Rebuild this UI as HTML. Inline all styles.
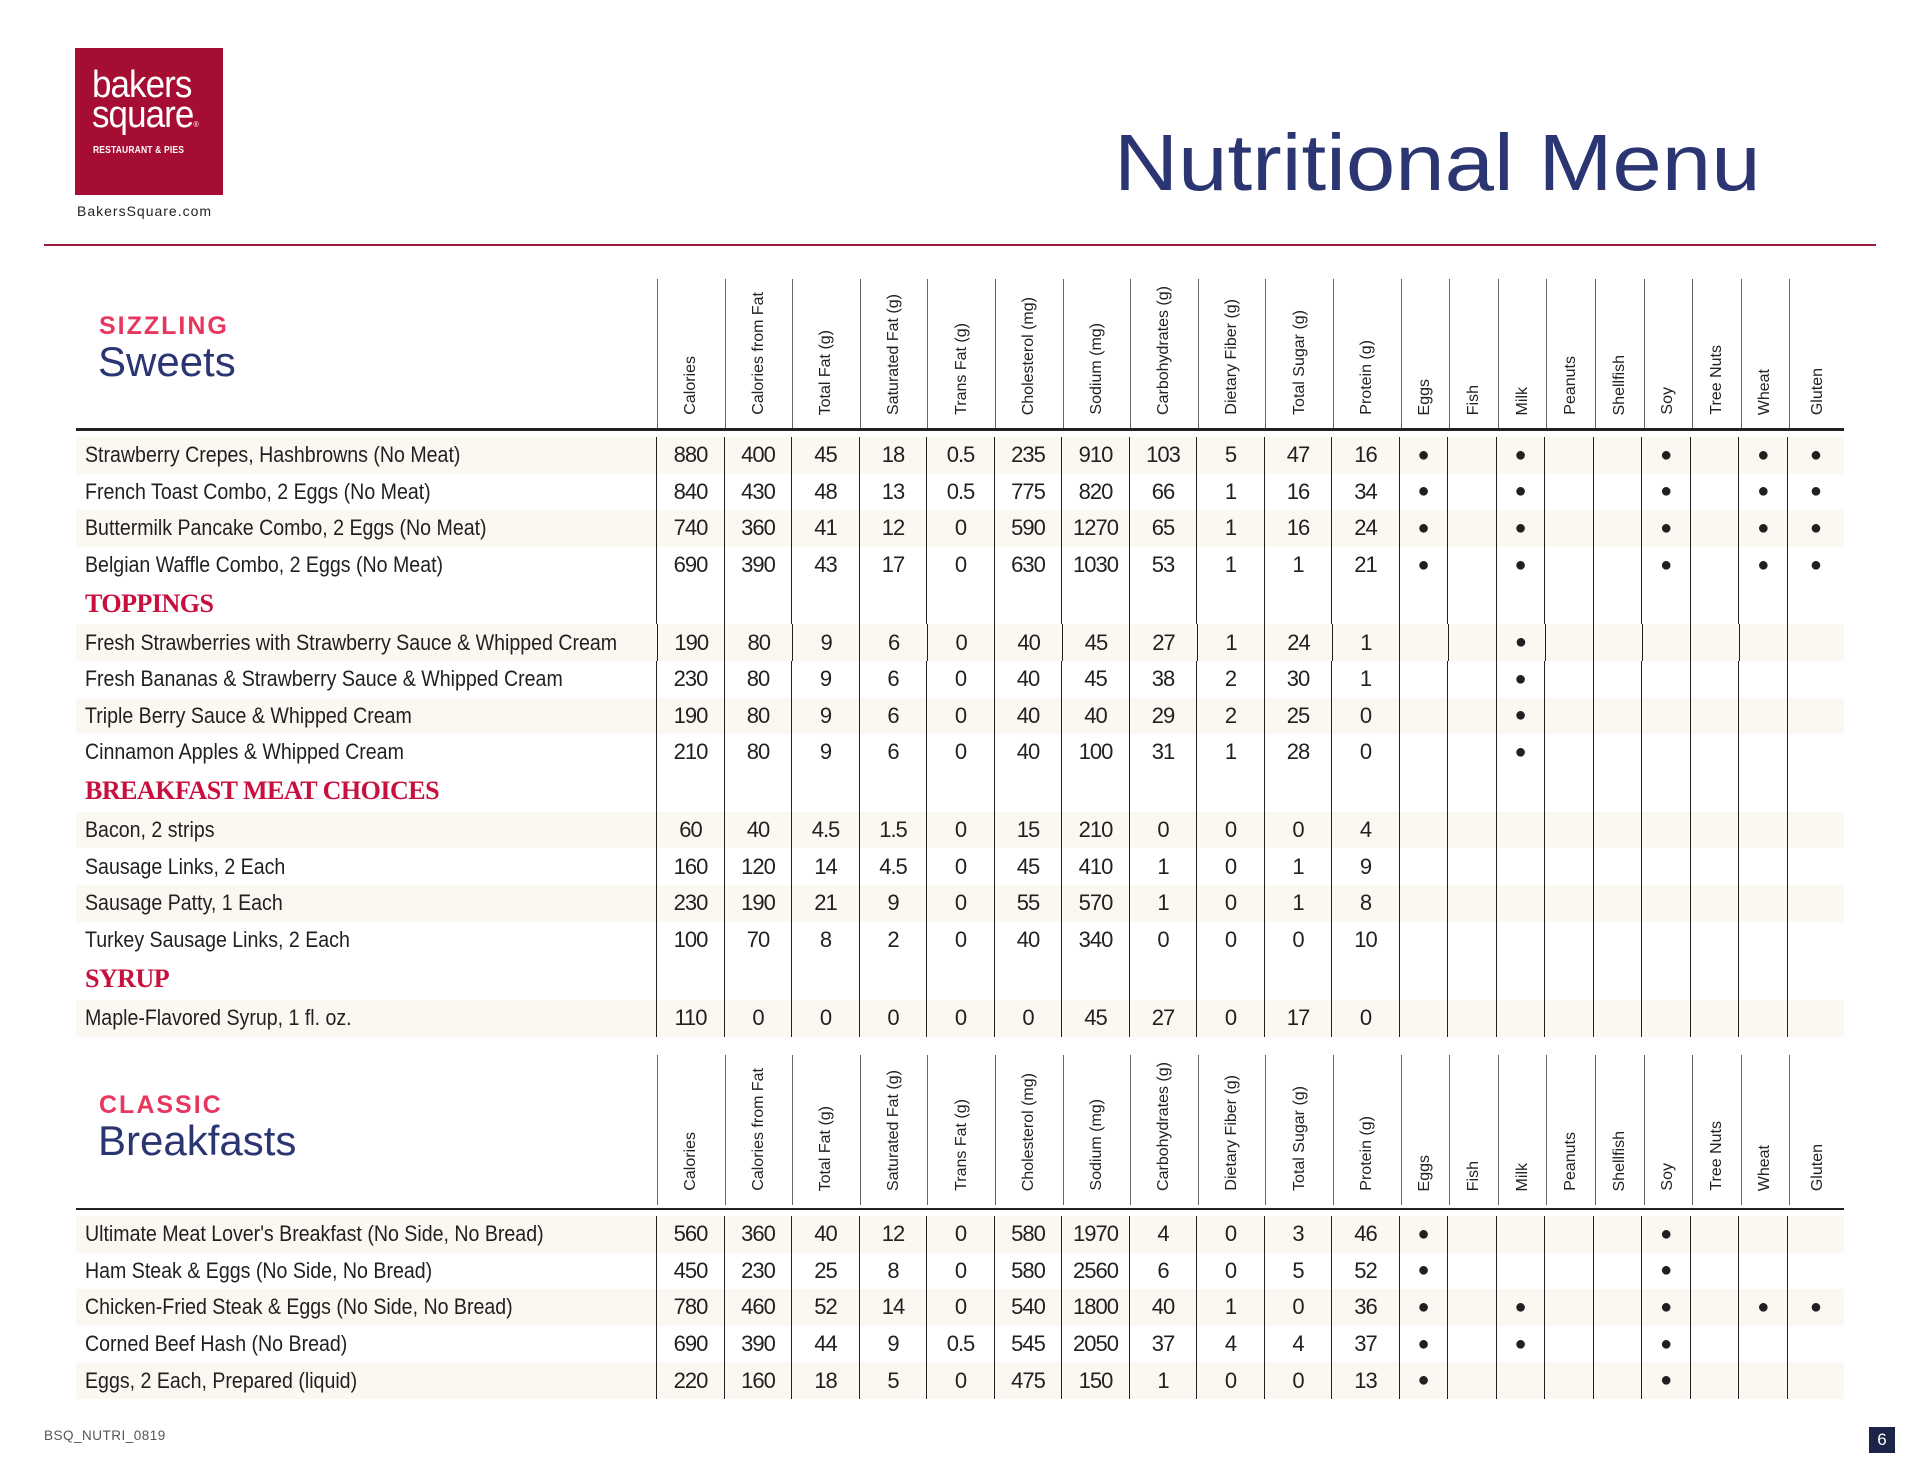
<!DOCTYPE html>
<html><head><meta charset="utf-8">
<style>
*{margin:0;padding:0;box-sizing:border-box}
body{width:1920px;height:1484px;background:#fff;position:relative;overflow:hidden;font-family:"Liberation Sans",sans-serif;color:#231f20}
.abs{position:absolute}
.logo{left:75px;top:48px;width:148px;height:147px;background:#a50d32;color:#fff}
.logo .b{position:absolute;left:17px;top:22px;font-size:38px;line-height:30px;letter-spacing:-1px;transform:scaleX(.92);transform-origin:left}
.logo .r{position:absolute;left:18px;top:97px;font-size:10px;font-weight:bold;letter-spacing:0.2px;transform:scaleX(.85);transform-origin:left;white-space:nowrap}
.url{left:77px;top:203px;font-size:14px;letter-spacing:1px;color:#222}
.title{left:1114px;top:118px;font-size:80px;color:#2b3572;line-height:90px;transform:scaleX(1.11);transform-origin:left;white-space:nowrap}
.rule{left:44px;top:244px;width:1832px;height:2px;background:#9b1b3a}
.sec1{left:99px;font-size:25px;font-weight:bold;color:#e8365f;letter-spacing:2px}
.sec2{left:98px;font-size:42px;color:#2b3572}
.hdr{position:absolute;left:657px;display:flex}
.hdr div{width:67.6px;border-left:1px solid #666;position:relative}
.hdr div.a{width:48.6px}
.hdr div.g{width:57px;border-left:1px solid #666}
.hdr span{position:absolute;bottom:14px;left:50%;transform:translateX(-50%) rotate(180deg);writing-mode:vertical-rl;font-size:16px;white-space:nowrap;color:#222}
.thick{position:absolute;left:76px;width:1768px;background:#222}
.row{position:absolute;left:76px;width:1768px;height:36.6px;display:flex;align-items:center;font-size:22px}
.row.s{background:#fbf7f1}
.row .n{width:581px;padding-left:9px;white-space:nowrap;overflow:visible}
.row .n span{display:inline-block;transform:scaleX(.89);transform-origin:left}
.row i{font-style:normal;width:67.6px;height:100%;border-left:1.5px solid #222;display:flex;align-items:center;justify-content:center;letter-spacing:-1px}
.row b{font-weight:normal;width:48.6px;height:100%;border-left:1.5px solid #222;display:flex;align-items:center;justify-content:center;font-size:20px}
.row b.g{width:57px}
.cat .n{font-family:"Liberation Serif",serif;font-weight:bold;color:#c8103e;font-size:26px;letter-spacing:-0.5px}
.foot{left:44px;top:1428px;font-size:13.5px;color:#555;letter-spacing:0.5px}
.pg{left:1869px;top:1427px;width:26px;height:26px;background:#1c2448;color:#fff;font-size:17px;text-align:center;line-height:26px}
</style></head><body>
<div class="abs logo"><div class="b">bakers<br>square<span style="font-size:8px">®</span></div><div class="r">RESTAURANT &amp; PIES</div></div>
<div class="abs url">BakersSquare.com</div>
<div class="abs title">Nutritional Menu</div>
<div class="abs rule"></div>

<div class="abs sec1" style="top:312px">SIZZLING</div>
<div class="abs sec2" style="top:338px">Sweets</div>
<div class="hdr" style="top:279px;height:150px">
<div><span>Calories</span></div><div><span>Calories from Fat</span></div><div><span>Total Fat (g)</span></div><div><span>Saturated Fat (g)</span></div><div><span>Trans Fat (g)</span></div><div><span>Cholesterol (mg)</span></div><div><span>Sodium (mg)</span></div><div><span>Carbohydrates (g)</span></div><div><span>Dietary Fiber (g)</span></div><div><span>Total Sugar (g)</span></div><div><span>Protein (g)</span></div><div class="a"><span>Eggs</span></div><div class="a"><span>Fish</span></div><div class="a"><span>Milk</span></div><div class="a"><span>Peanuts</span></div><div class="a"><span>Shellfish</span></div><div class="a"><span>Soy</span></div><div class="a"><span>Tree Nuts</span></div><div class="a"><span>Wheat</span></div><div class="g"><span>Gluten</span></div>
</div>
<div class="thick" style="top:428px;height:3px"></div>

<div class="row s" style="top:437px"><span class="n"><span>Strawberry Crepes, Hashbrowns (No Meat)</span></span><i>880</i><i>400</i><i>45</i><i>18</i><i>0.5</i><i>235</i><i>910</i><i>103</i><i>5</i><i>47</i><i>16</i><b>●</b><b></b><b>●</b><b></b><b></b><b>●</b><b></b><b>●</b><b class="g">●</b></div>
<div class="row" style="top:473.6px"><span class="n"><span>French Toast Combo, 2 Eggs (No Meat)</span></span><i>840</i><i>430</i><i>48</i><i>13</i><i>0.5</i><i>775</i><i>820</i><i>66</i><i>1</i><i>16</i><i>34</i><b>●</b><b></b><b>●</b><b></b><b></b><b>●</b><b></b><b>●</b><b class="g">●</b></div>
<div class="row s" style="top:510.2px"><span class="n"><span>Buttermilk Pancake Combo, 2 Eggs (No Meat)</span></span><i>740</i><i>360</i><i>41</i><i>12</i><i>0</i><i>590</i><i>1270</i><i>65</i><i>1</i><i>16</i><i>24</i><b>●</b><b></b><b>●</b><b></b><b></b><b>●</b><b></b><b>●</b><b class="g">●</b></div>
<div class="row" style="top:546.8px"><span class="n"><span>Belgian Waffle Combo, 2 Eggs (No Meat)</span></span><i>690</i><i>390</i><i>43</i><i>17</i><i>0</i><i>630</i><i>1030</i><i>53</i><i>1</i><i>1</i><i>21</i><b>●</b><b></b><b>●</b><b></b><b></b><b>●</b><b></b><b>●</b><b class="g">●</b></div>
<div class="row cat" style="top:583.4px;height:41px"><span class="n">TOPPINGS</span><i></i><i></i><i></i><i></i><i></i><i></i><i></i><i></i><i></i><i></i><i></i><b></b><b></b><b></b><b></b><b></b><b></b><b></b><b></b><b class="g"></b></div>
<div class="row s" style="top:624.4px"><span class="n"><span>Fresh Strawberries with Strawberry Sauce &amp; Whipped Cream</span></span><i>190</i><i>80</i><i>9</i><i>6</i><i>0</i><i>40</i><i>45</i><i>27</i><i>1</i><i>24</i><i>1</i><b></b><b></b><b>●</b><b></b><b></b><b></b><b></b><b></b><b class="g"></b></div>
<div class="row" style="top:661px"><span class="n"><span>Fresh Bananas &amp; Strawberry Sauce &amp; Whipped Cream</span></span><i>230</i><i>80</i><i>9</i><i>6</i><i>0</i><i>40</i><i>45</i><i>38</i><i>2</i><i>30</i><i>1</i><b></b><b></b><b>●</b><b></b><b></b><b></b><b></b><b></b><b class="g"></b></div>
<div class="row s" style="top:697.6px"><span class="n"><span>Triple Berry Sauce &amp; Whipped Cream</span></span><i>190</i><i>80</i><i>9</i><i>6</i><i>0</i><i>40</i><i>40</i><i>29</i><i>2</i><i>25</i><i>0</i><b></b><b></b><b>●</b><b></b><b></b><b></b><b></b><b></b><b class="g"></b></div>
<div class="row" style="top:734.2px"><span class="n"><span>Cinnamon Apples &amp; Whipped Cream</span></span><i>210</i><i>80</i><i>9</i><i>6</i><i>0</i><i>40</i><i>100</i><i>31</i><i>1</i><i>28</i><i>0</i><b></b><b></b><b>●</b><b></b><b></b><b></b><b></b><b></b><b class="g"></b></div>
<div class="row cat" style="top:770.8px;height:41px"><span class="n">BREAKFAST MEAT CHOICES</span><i></i><i></i><i></i><i></i><i></i><i></i><i></i><i></i><i></i><i></i><i></i><b></b><b></b><b></b><b></b><b></b><b></b><b></b><b></b><b class="g"></b></div>
<div class="row s" style="top:811.8px"><span class="n"><span>Bacon, 2 strips</span></span><i>60</i><i>40</i><i>4.5</i><i>1.5</i><i>0</i><i>15</i><i>210</i><i>0</i><i>0</i><i>0</i><i>4</i><b></b><b></b><b></b><b></b><b></b><b></b><b></b><b></b><b class="g"></b></div>
<div class="row" style="top:848.4px"><span class="n"><span>Sausage Links, 2 Each</span></span><i>160</i><i>120</i><i>14</i><i>4.5</i><i>0</i><i>45</i><i>410</i><i>1</i><i>0</i><i>1</i><i>9</i><b></b><b></b><b></b><b></b><b></b><b></b><b></b><b></b><b class="g"></b></div>
<div class="row s" style="top:885px"><span class="n"><span>Sausage Patty, 1 Each</span></span><i>230</i><i>190</i><i>21</i><i>9</i><i>0</i><i>55</i><i>570</i><i>1</i><i>0</i><i>1</i><i>8</i><b></b><b></b><b></b><b></b><b></b><b></b><b></b><b></b><b class="g"></b></div>
<div class="row" style="top:921.6px"><span class="n"><span>Turkey Sausage Links, 2 Each</span></span><i>100</i><i>70</i><i>8</i><i>2</i><i>0</i><i>40</i><i>340</i><i>0</i><i>0</i><i>0</i><i>10</i><b></b><b></b><b></b><b></b><b></b><b></b><b></b><b></b><b class="g"></b></div>
<div class="row cat" style="top:958.2px;height:42px"><span class="n">SYRUP</span><i></i><i></i><i></i><i></i><i></i><i></i><i></i><i></i><i></i><i></i><i></i><b></b><b></b><b></b><b></b><b></b><b></b><b></b><b></b><b class="g"></b></div>
<div class="row s" style="top:1000.2px"><span class="n"><span>Maple-Flavored Syrup, 1 fl. oz.</span></span><i>110</i><i>0</i><i>0</i><i>0</i><i>0</i><i>0</i><i>45</i><i>27</i><i>0</i><i>17</i><i>0</i><b></b><b></b><b></b><b></b><b></b><b></b><b></b><b></b><b class="g"></b></div>

<div class="abs sec1" style="top:1091px">CLASSIC</div>
<div class="abs sec2" style="top:1117px">Breakfasts</div>
<div class="hdr" style="top:1055px;height:150px">
<div><span>Calories</span></div><div><span>Calories from Fat</span></div><div><span>Total Fat (g)</span></div><div><span>Saturated Fat (g)</span></div><div><span>Trans Fat (g)</span></div><div><span>Cholesterol (mg)</span></div><div><span>Sodium (mg)</span></div><div><span>Carbohydrates (g)</span></div><div><span>Dietary Fiber (g)</span></div><div><span>Total Sugar (g)</span></div><div><span>Protein (g)</span></div><div class="a"><span>Eggs</span></div><div class="a"><span>Fish</span></div><div class="a"><span>Milk</span></div><div class="a"><span>Peanuts</span></div><div class="a"><span>Shellfish</span></div><div class="a"><span>Soy</span></div><div class="a"><span>Tree Nuts</span></div><div class="a"><span>Wheat</span></div><div class="g"><span>Gluten</span></div>
</div>
<div class="thick" style="top:1208px;height:1.5px"></div>

<div class="row s" style="top:1216px"><span class="n"><span>Ultimate Meat Lover's Breakfast (No Side, No Bread)</span></span><i>560</i><i>360</i><i>40</i><i>12</i><i>0</i><i>580</i><i>1970</i><i>4</i><i>0</i><i>3</i><i>46</i><b>●</b><b></b><b></b><b></b><b></b><b>●</b><b></b><b></b><b class="g"></b></div>
<div class="row" style="top:1252.6px"><span class="n"><span>Ham Steak &amp; Eggs (No Side, No Bread)</span></span><i>450</i><i>230</i><i>25</i><i>8</i><i>0</i><i>580</i><i>2560</i><i>6</i><i>0</i><i>5</i><i>52</i><b>●</b><b></b><b></b><b></b><b></b><b>●</b><b></b><b></b><b class="g"></b></div>
<div class="row s" style="top:1289.2px"><span class="n"><span>Chicken-Fried Steak &amp; Eggs (No Side, No Bread)</span></span><i>780</i><i>460</i><i>52</i><i>14</i><i>0</i><i>540</i><i>1800</i><i>40</i><i>1</i><i>0</i><i>36</i><b>●</b><b></b><b>●</b><b></b><b></b><b>●</b><b></b><b>●</b><b class="g">●</b></div>
<div class="row" style="top:1325.8px"><span class="n"><span>Corned Beef Hash (No Bread)</span></span><i>690</i><i>390</i><i>44</i><i>9</i><i>0.5</i><i>545</i><i>2050</i><i>37</i><i>4</i><i>4</i><i>37</i><b>●</b><b></b><b>●</b><b></b><b></b><b>●</b><b></b><b></b><b class="g"></b></div>
<div class="row s" style="top:1362.4px"><span class="n"><span>Eggs, 2 Each, Prepared (liquid)</span></span><i>220</i><i>160</i><i>18</i><i>5</i><i>0</i><i>475</i><i>150</i><i>1</i><i>0</i><i>0</i><i>13</i><b>●</b><b></b><b></b><b></b><b></b><b>●</b><b></b><b></b><b class="g"></b></div>

<div class="abs foot">BSQ_NUTRI_0819</div>
<div class="abs pg">6</div>
</body></html>
